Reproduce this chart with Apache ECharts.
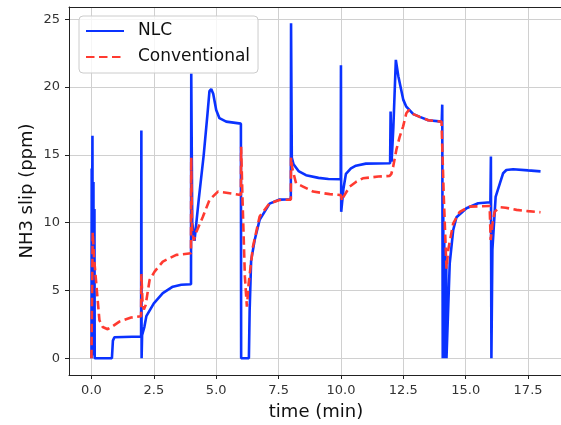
<!DOCTYPE html>
<html>
<head>
<meta charset="utf-8">
<script src="https://cdn.jsdelivr.net/npm/echarts@6/dist/echarts.min.js"></script>
<style>
  html, body { margin: 0; padding: 0; background: #fff; }
  #chart { width: 561px; height: 425px; }
</style>
</head>
<body>
<div id="chart"></div>
<script>
// NLC controller response (time in min, NH3 slip in ppm)
const nlcTime = [0, 0.01, 0.02, 0.03, 0.04, 0.05, 0.06, 0.07, 0.08, 0.09, 0.1, 0.11, 0.12, 0.13, 0.82, 0.86, 0.92, 1.99,
  2.0, 2.01, 2.03, 2.06, 2.12, 2.2, 2.5, 2.86, 3.26, 3.6, 3.99,
  4.0, 4.04, 4.13, 4.3, 4.5, 4.65, 4.73, 4.8, 4.88, 5.0, 5.13, 5.4, 5.99,
  6.0, 6.31, 6.34, 6.4, 6.54, 6.74, 7.14, 7.54, 7.99,
  8.0, 8.03, 8.1, 8.3, 8.6, 9.1, 9.5, 9.99,
  10.0, 10.01, 10.1, 10.2, 10.4, 10.6, 11.0, 11.97,
  11.99, 12.03, 12.1, 12.2, 12.3, 12.5, 12.62, 12.9, 13.16, 13.5, 14.04,
  14.06, 14.08, 14.1, 14.12, 14.14, 14.16, 14.18, 14.2, 14.22, 14.23, 14.36, 14.5, 14.63, 15.03, 15.5, 15.99,
  16.0, 16.01, 16.03, 16.07, 16.2, 16.37, 16.5, 16.63, 16.9, 17.5, 18.0]
const nlcSlip = [0, 14, 0.3, 12, 16.4, 0.5, 11, 0.3, 13, 0.2, 10.5, 0.3, 11, 0, 0, 1.3, 1.55, 1.6,
  16.8, 0, 1.7, 1.9, 2.3, 3.1, 4.05, 4.8, 5.28, 5.42, 5.46,
  21.0, 10.0, 8.65, 11.7, 15.0, 18.0, 19.7, 19.85, 19.5, 18.3, 17.7, 17.45, 17.3,
  0, 0, 3.5, 7.2, 8.7, 10.2, 11.4, 11.7, 11.72,
  24.7, 14.8, 14.3, 13.8, 13.5, 13.3, 13.22, 13.2,
  21.6, 10.8, 12.5, 13.6, 14.0, 14.2, 14.35, 14.38,
  18.2, 14.5, 17.0, 22.0, 20.8, 19.05, 18.55, 18.0, 17.8, 17.55, 17.45,
  18.7, 0, 11, 0, 9, 0, 8, 0, 7.5, 0, 7.0, 9.46, 10.4, 11.06, 11.43, 11.5, 11.52,
  14.87, 0, 8.0, 11.9, 12.9, 13.64, 13.88, 13.94, 13.85, 13.78, 13.72]

// Conventional controller response
const convTime = [0, 0.05, 0.1, 0.19, 0.32, 0.45, 0.65, 0.8, 1.12, 1.59, 1.99,
  2.0, 2.05, 2.1, 2.17, 2.33, 2.53, 2.86, 3.4, 3.99,
  4.0, 4.03, 4.1, 4.2, 4.47, 4.73, 5.07, 5.54, 5.99,
  6.0, 6.05, 6.15, 6.23, 6.3, 6.47, 6.74, 7.14, 7.54, 7.99,
  8.0, 8.05, 8.2, 8.48, 8.88, 9.55, 9.99,
  10.05, 10.1, 10.35, 10.6, 10.88, 11.5, 11.95,
  12.02, 12.09, 12.22, 12.35, 12.49, 12.62, 12.72, 12.9, 13.16, 13.5, 14.03,
  14.12, 14.23, 14.3, 14.5, 14.76, 15.16, 15.96,
  16.0, 16.08, 16.16, 16.37, 16.6, 17.04, 17.5, 18.0]
const convSlip = [0, 9.3, 7.5, 5.55, 2.8, 2.3, 2.14, 2.3, 2.7, 3.0, 3.1,
  6.2, 4.0, 3.6, 3.9, 5.77, 6.39, 7.13, 7.62, 7.74,
  14.8, 9.5, 8.7, 9.3, 10.45, 11.67, 12.29, 12.17, 12.04,
  15.6, 12.0, 6.0, 3.8, 5.5, 8.2, 10.45, 11.43, 11.67, 11.7,
  14.8, 14.0, 12.9, 12.66, 12.29, 12.1, 12.04,
  11.6, 11.9, 12.66, 13.0, 13.27, 13.4, 13.44,
  13.6, 14.1, 15.36, 16.3, 17.08, 18.07, 18.3, 18.0, 17.8, 17.55, 17.45,
  12.0, 6.6, 8.0, 9.95, 10.8, 11.18, 11.23,
  8.72, 10.0, 10.8, 11.14, 11.1, 10.94, 10.85, 10.77]

const xTicks = [0, 2.5, 5, 7.5, 10, 12.5, 15, 17.5]
const yTicks = [0, 5, 10, 15, 20, 25]

const font = 'DejaVu Sans'
const xMin = -0.9, xMax = 18.9

let chart = echarts.init(document.getElementById('chart'))

let axisCommon = {
  type: 'value',
  nameLocation: 'middle',
  nameMoveOverlap: false,
  nameTextStyle: { fontFamily: font, fontSize: 18, color: '#111' },
  axisLine: { show: true, onZero: false, lineStyle: { color: '#222', width: 1 } },
  splitLine: { show: true, lineStyle: { color: '#d0d0d0', width: 1 } }
}

let option = {
  animation: false,
  backgroundColor: '#fff',
  grid: { left: 69, top: 7, right: -2, bottom: 50, outerBoundsMode: 'none', containLabel: false },
  xAxis: [
    Object.assign({}, axisCommon, {
      name: 'time (min)',
      nameGap: 28,
      min: xMin,
      max: xMax,
      axisTick: { show: true, length: 4, customValues: xTicks, lineStyle: { color: '#222' } },
      axisLabel: {
        customValues: xTicks,
        margin: 9,
        fontFamily: font,
        fontSize: 13,
        color: '#333',
        formatter: v => v.toFixed(1)
      }
    }),
    // top spine only
    {
      type: 'value',
      position: 'top',
      min: xMin,
      max: xMax,
      axisLine: { show: true, onZero: false, lineStyle: { color: '#222', width: 1 } },
      axisTick: { show: false },
      axisLabel: { show: false },
      splitLine: { show: false }
    }
  ],
  yAxis: Object.assign({}, axisCommon, {
    name: 'NH3 slip (ppm)',
    nameGap: 33,
    min: -1.235,
    max: 25.9,
    axisTick: { show: true, length: 4, customValues: yTicks, lineStyle: { color: '#222' } },
    axisLabel: {
      customValues: yTicks,
      margin: 9,
      fontFamily: font,
      fontSize: 13,
      color: '#333',
      formatter: v => String(Math.round(v))
    }
  }),
  legend: {
    orient: 'vertical',
    left: 79,
    top: 16,
    padding: [5, 8, 6, 6],
    itemWidth: 38,
    itemHeight: 14,
    itemGap: 6,
    itemStyle: { opacity: 0 },
    backgroundColor: 'rgba(255,255,255,0.8)',
    borderColor: '#cccccc',
    borderWidth: 1,
    borderRadius: 4,
    textStyle: { fontFamily: font, fontSize: 17, color: '#111', lineHeight: 20, padding: [0, 0, 0, 9] },
    data: ['NLC', 'Conventional']
  },
  series: [
    {
      name: 'NLC',
      type: 'line',
      data: nlcTime.map((t, i) => [t, nlcSlip[i]]),
      showSymbol: false,
      symbol: 'none',
      lineStyle: { color: '#0a32ff', width: 2.6 },
      itemStyle: { color: '#0a32ff' },
      z: 2
    },
    {
      name: 'Conventional',
      type: 'line',
      data: convTime.map((t, i) => [t, convSlip[i]]),
      showSymbol: false,
      symbol: 'none',
      lineStyle: { color: '#ff3a30', width: 2.6, type: [8.5, 4.5] },
      itemStyle: { color: '#ff3a30' },
      z: 3
    }
  ]
}
chart.setOption(option)
</script>
</body>
</html>
